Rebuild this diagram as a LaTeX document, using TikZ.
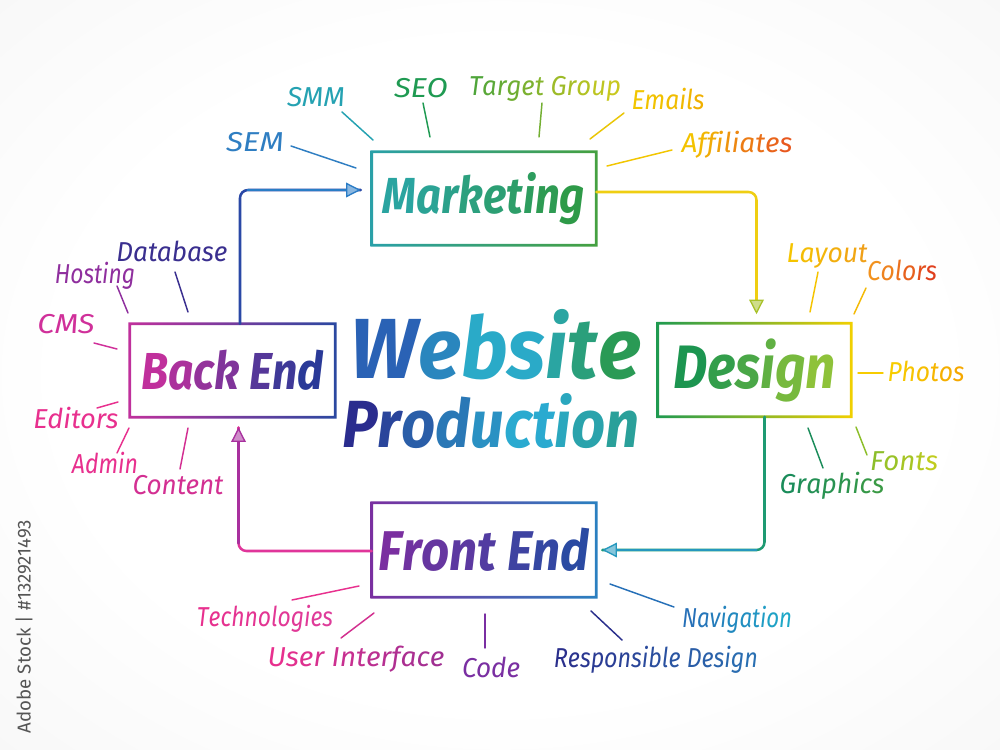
\documentclass[tikz,border=0pt]{standalone}
\usepackage{fontspec}
\setmainfont{Fira Sans}
\usepackage{graphicx}
\usetikzlibrary{arrows.meta,calc}

\definecolor{bgg}{HTML}{E6E6E6}
\definecolor{cSEM}{HTML}{2F7EC2}
\definecolor{cSMM}{HTML}{25A2B2}
\definecolor{cSEO}{HTML}{1F9A52}
\definecolor{tgA}{HTML}{4FA53A}\definecolor{tgB}{HTML}{C8C81E}
\definecolor{emA}{HTML}{F2C600}\definecolor{emB}{HTML}{F0B000}
\definecolor{afA}{HTML}{F3C300}\definecolor{afB}{HTML}{E8581E}
\definecolor{lyA}{HTML}{F5C400}\definecolor{lyB}{HTML}{F0A018}
\definecolor{coA}{HTML}{F2921E}\definecolor{coB}{HTML}{E0401E}
\definecolor{phA}{HTML}{F7CC00}\definecolor{phB}{HTML}{F5A800}
\definecolor{foA}{HTML}{8CBE2A}\definecolor{foB}{HTML}{C0CC1E}
\definecolor{grA}{HTML}{1A8C5A}\definecolor{grB}{HTML}{3A9A45}
\definecolor{nvA}{HTML}{2670B8}\definecolor{nvB}{HTML}{1EA8C8}
\definecolor{rdA}{HTML}{2A2F8C}\definecolor{rdB}{HTML}{2A70B2}
\definecolor{cCode}{HTML}{7A2FA2}
\definecolor{uiA}{HTML}{E8308E}\definecolor{uiB}{HTML}{A02F92}
\definecolor{teA}{HTML}{E8308E}\definecolor{teB}{HTML}{DE3C9A}
\definecolor{cContent}{HTML}{D32F92}
\definecolor{cAdmin}{HTML}{E8308E}
\definecolor{cEditors}{HTML}{E8308E}
\definecolor{cCMS}{HTML}{D0309A}
\definecolor{cHost}{HTML}{8F2F9E}
\definecolor{cDB}{HTML}{3A2F8F}
\definecolor{mkA}{HTML}{2AA4A0}\definecolor{mkB}{HTML}{2E9A48}
\definecolor{dsA}{HTML}{1C9550}\definecolor{dsB}{HTML}{8EC23A}
\definecolor{beA}{HTML}{C0309C}\definecolor{beB}{HTML}{2A3A98}
\definecolor{feA}{HTML}{7A2FA0}\definecolor{feB}{HTML}{2A4AA2}
\definecolor{wbA}{HTML}{2A62B5}\definecolor{wbB}{HTML}{2AAAC8}\definecolor{wbC}{HTML}{2A9A55}
\definecolor{prA}{HTML}{2A2C8E}\definecolor{prB}{HTML}{2AAAD0}\definecolor{prC}{HTML}{2AA09A}
\definecolor{fmA}{HTML}{2AA0A8}\definecolor{fmB}{HTML}{45A040}
\definecolor{fdA}{HTML}{1E9A50}\definecolor{fdB}{HTML}{F2D000}
\definecolor{fbA}{HTML}{C0309C}\definecolor{fbB}{HTML}{2A48A0}
\definecolor{ffA}{HTML}{7A2FA0}\definecolor{ffB}{HTML}{2A80C0}
\definecolor{kA}{HTML}{2A48A6}\definecolor{kAt}{HTML}{2A7CC6}
\definecolor{kB}{HTML}{EFCE12}\definecolor{kBt}{HTML}{A8C22A}
\definecolor{kC}{HTML}{1E9A72}\definecolor{kCt}{HTML}{2598BE}
\definecolor{kD}{HTML}{E0359A}\definecolor{kDt}{HTML}{A8309E}
\definecolor{wm}{HTML}{555555}

\newdimen\fwd
% fit to a width (px) keeping the font's height
\newcommand\fw[2]{\fwd=0.75pt \fwd=#1\fwd \resizebox{\fwd}{\height}{#2}}
% fit to a width (px) keeping the aspect ratio
\newcommand\fa[2]{\fwd=0.75pt \fwd=#1\fwd \resizebox{\fwd}{!}{#2}}

\ExplSyntaxOn
\int_new:N \l_gr_i_int
\int_new:N \l_gr_n_int
\int_new:N \l_gr_p_int
\cs_new_protected:Npn \gr_color:nn #1#2 { \textcolor{#1}{#2} }
\NewDocumentCommand \grad { m m m }
  {
    \int_set:Nn \l_gr_n_int { \tl_count:n {#3} }
    \int_zero:N \l_gr_i_int
    \tl_map_inline:nn {#3}
      {
        \int_set:Nn \l_gr_p_int
          { 100 - ( 100 * \l_gr_i_int ) / \int_max:nn { \l_gr_n_int - 1 } { 1 } }
        \exp_args:Nx \gr_color:nn { #1 ! \int_use:N \l_gr_p_int ! #2 } {##1}
        \int_incr:N \l_gr_i_int
      }
  }
\ExplSyntaxOff

\pgfdeclareradialshading{bgshade}{\pgfpoint{0bp}{0bp}}{color(0bp)=(white); color(22bp)=(white); color(71bp)=(bgg)}

\newcommand\gframe[3]{%
  \shade[left color=#2,right color=#3,even odd rule]
    ([shift={(-1.3,-1.3)}]#1.north west) rectangle ([shift={(1.3,1.3)}]#1.south east)
    ([shift={(1.3,1.3)}]#1.north west) rectangle ([shift={(-1.3,-1.3)}]#1.south east);}

\tikzset{
  lab/.style={inner sep=0pt, anchor=base, font=\fontsize{20.5}{24}\selectfont\itshape},
  spoke/.style={line width=1.1pt, line cap=round},
  boxn/.style={inner sep=0pt, font=\fontsize{#1}{#1}\selectfont\bfseries\itshape},
  conn/.style={line width=1.9pt, rounded corners=6pt, line cap=round},
  tip/.style={-{Triangle[length=11pt,width=11pt,line width=1pt,color=#1,fill=#1!55!white]}}
}

\begin{document}
\begin{tikzpicture}[x=0.75pt,y=-0.75pt]
\useasboundingbox (0,0) rectangle (1000,750);
\shade[shading=bgshade] (0,0) rectangle (1000,750);

% boxes
\node[boxn=38, minimum width=168pt, minimum height=69.75pt] (m) at (484,198.5)
  {\fw{202}{\grad{mkA}{mkB}{Marketing}}};
\node[boxn=46, minimum width=144.75pt, minimum height=69.75pt] (d) at (754.5,370)
  {\fw{163}{\grad{dsA}{dsB}{Design}}};
\node[boxn=39, minimum width=153.75pt, minimum height=69.75pt] (b) at (232.5,370.5)
  {\fw{183}{\grad{beA}{beB}{Back~End}}};
\node[boxn=42, minimum width=168pt, minimum height=70.5pt] (f) at (484,550)
  {\fw{211}{\grad{feA}{feB}{Front~End}}};
\gframe{m}{fmA}{fmB}
\gframe{d}{fdA}{fdB}
\gframe{b}{fbA}{fbB}
\gframe{f}{ffA}{ffB}

% title
\node[boxn=64, anchor=base] (t1) at (496,378) {\fw{290}{\grad{wbA}{wbB}{Web}\grad{wbB}{wbC}{site}}};
\node[boxn=50, anchor=base] (t2) at (491,447) {\fw{297}{\grad{prA}{prB}{Produc}\grad{prB}{prC}{tion}}};

% cycle connectors (second colour laid over the last leg)
\draw[conn, kA] ($(b.north)+(7.5,0)$) |- ($(m.west)+(-11,-8.5)$);
\draw[conn, kAt, tip=kAt] ($(m.west)+(-124,-8.5)$) -- ($(m.west)+(-11,-8.5)$);
\draw[conn, kB, tip=kBt] ($(m.east)+(0,-6.5)$) -| ($(d.north)+(2,-9)$);
\draw[conn, kC] ($(d.south)+(10,0)$) |- ($(f.east)+(6,0)$);
\draw[conn, kCt, tip=kCt] ($(f.east)+(160,0)$) -- ($(f.east)+(6,0)$);
\draw[conn, kD] ($(f.west)+(0,1)$) -| ($(b.south)+(6,10)$);
\draw[conn, kDt, tip=kDt] ($(b.south)+(6,126)$) -- ($(b.south)+(6,10)$);

% Marketing labels
\node[lab] (sem) at (255,151) {\fw{58}{\textcolor{cSEM}{SEM}}};
\node[lab] (smm) at (316,106) {\fw{58}{\textcolor{cSMM}{SMM}}};
\node[lab] (seo) at (421,97) {\fw{54}{\textcolor{cSEO}{SEO}}};
\node[lab] (tg) at (545,95) {\fw{152}{\grad{tgA}{tgB}{Target~Group}}};
\node[lab] (em) at (668,109) {\fw{73}{\grad{emA}{emB}{Emails}}};
\node[lab] (af) at (737,152) {\fw{111}{\grad{afA}{afB}{Affiliates}}};
\draw[spoke, cSEM] (291,146) -- (356,168);
\draw[spoke, cSMM] (342,112) -- (373,140);
\draw[spoke, cSEO] (423,103) -- (430,137);
\draw[spoke, tgA!70!tgB] (542,103) -- (539,137);
\draw[spoke, emA!80!tgB] (624,113) -- (590,139);
\draw[spoke, emA] (672,150) -- (607,166);

% Design labels
\node[lab] (ly) at (827,262) {\fw{81}{\grad{lyA}{lyB}{Layout}}};
\node[lab] (co) at (902,280) {\fw{70}{\grad{coA}{coB}{Colors}}};
\node[lab] (ph) at (926,381) {\fw{77}{\grad{phA}{phB}{Photos}}};
\node[lab] (fo) at (904,470) {\fw{68}{\grad{foA}{foB}{Fonts}}};
\node[lab] (gr) at (832,493) {\fw{105}{\grad{grA}{grB}{Graphics}}};
\draw[spoke, lyA] (818,272) -- (810,312);
\draw[spoke, lyA!80!coA] (866,288) -- (854,314);
\draw[spoke, phA] (858,373) -- (883,373);
\draw[spoke, foA] (856,427) -- (867,455);
\draw[spoke, grA] (808,428) -- (823,468);

% Back End labels
\node[lab] (db) at (172,261) {\fw{111}{\textcolor{cDB}{Database}}};
\node[lab] (ho) at (95,283) {\fw{80}{\textcolor{cHost}{Hosting}}};
\node[lab] (cms) at (66,333) {\fw{57}{\textcolor{cCMS}{CMS}}};
\node[lab] (ed) at (76,428) {\fw{85}{\textcolor{cEditors}{Editors}}};
\node[lab] (ad) at (105,473) {\fw{66}{\textcolor{cAdmin}{Admin}}};
\node[lab] (ct) at (178,494) {\fw{91}{\textcolor{cContent}{Content}}};
\draw[spoke, cDB] (175,272) -- (188,312);
\draw[spoke, cHost] (117,286) -- (128,313);
\draw[spoke, cCMS] (94,343) -- (117,349);
\draw[spoke, cEditors] (97,408) -- (118,402);
\draw[spoke, cAdmin] (117,453) -- (129,428);
\draw[spoke, cContent] (180,469) -- (188,428);

% Front End labels
\node[lab] (te) at (265,626) {\fw{136}{\grad{teA}{teB}{Technologies}}};
\node[lab] (ui) at (356,666) {\fw{177}{\grad{uiA}{uiB}{User~Interface}}};
\node[lab] (cd) at (491,677) {\fw{58}{\textcolor{cCode}{Code}}};
\node[lab] (rd) at (656,667) {\fw{204}{\grad{rdA}{rdB}{Responsible~Design}}};
\node[lab] (nv) at (737,627) {\fw{110}{\grad{nvA}{nvB}{Navigation}}};
\draw[spoke, teA] (292,600) -- (359,586);
\draw[spoke, uiA!70!uiB] (341,638) -- (374,613);
\draw[spoke, cCode] (485,614) -- (485,648);
\draw[spoke, rdA] (591,611) -- (622,640);
\draw[spoke, nvA] (610,584) -- (674,607);

% side credit
\node[inner sep=0pt, rotate=90, text=wm] (credit) at (24,626.5) {\fa{213}{Adobe Stock | \#132921493}};
\end{tikzpicture}
\end{document}
